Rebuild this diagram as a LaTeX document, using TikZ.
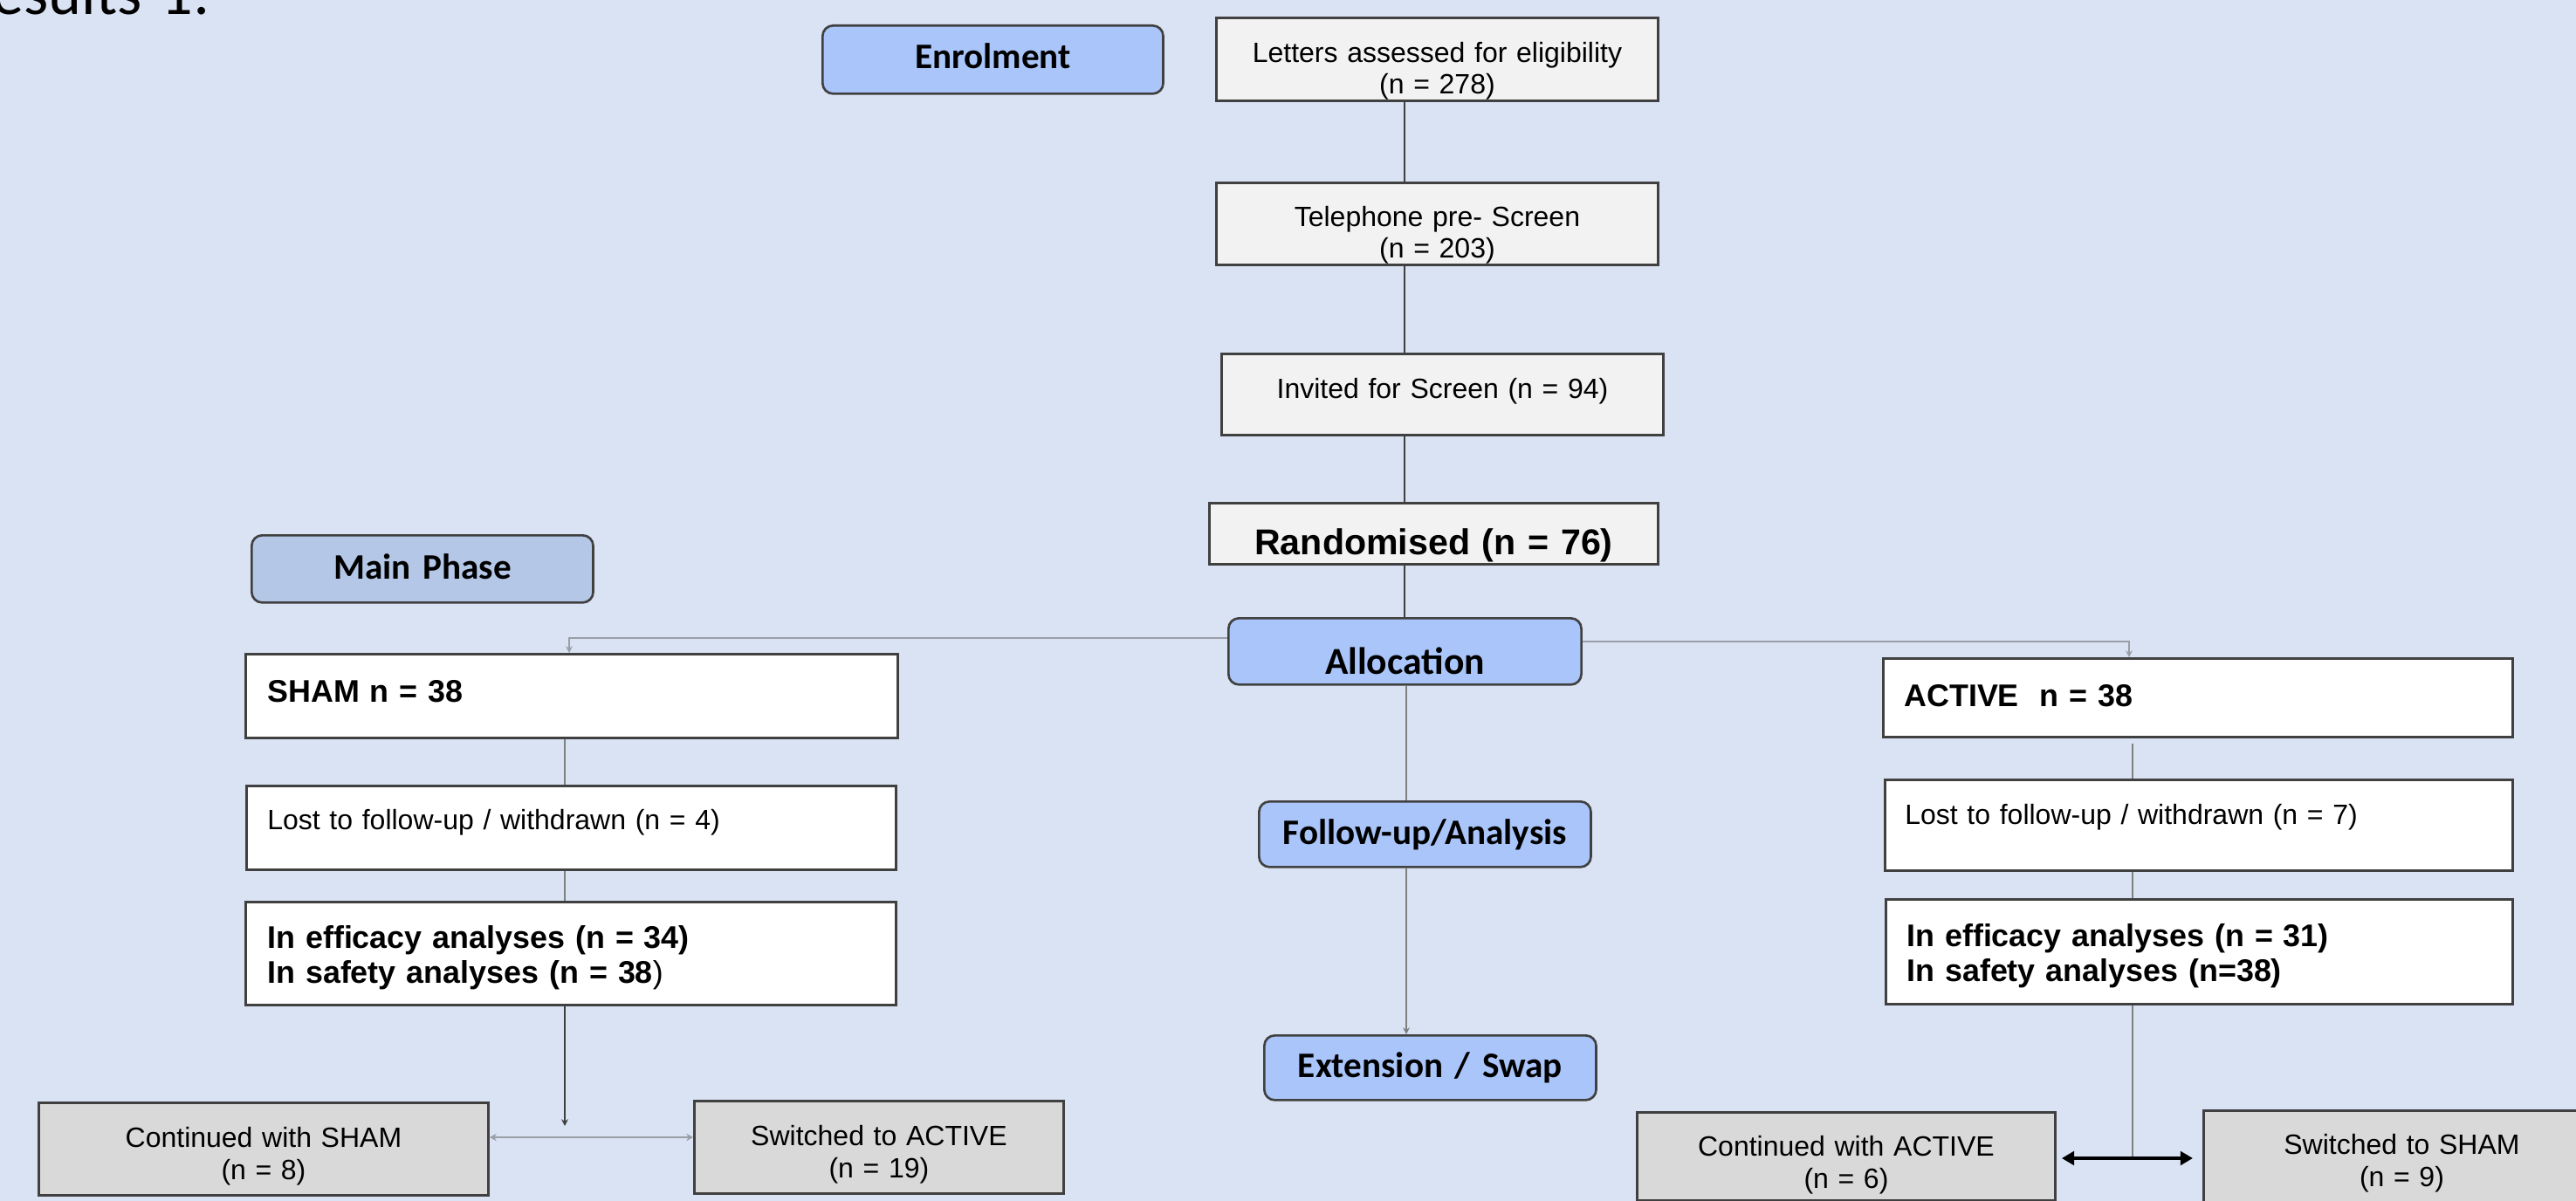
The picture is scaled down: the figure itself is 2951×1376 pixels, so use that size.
\documentclass[tikz,border=0pt]{standalone}
\usepackage{fontspec}
\setmainfont{Liberation Sans}
\newfontfamily\calfont{Carlito}
\usetikzlibrary{arrows.meta}
\definecolor{bgc}{HTML}{DAE3F3}
\definecolor{lgrayc}{HTML}{F2F2F2}
\definecolor{dgrayc}{HTML}{D9D9D9}
\definecolor{bluec}{HTML}{A9C5FA}
\definecolor{mainc}{HTML}{B4C7E7}
\definecolor{bordc}{HTML}{404040}
\definecolor{darkln}{HTML}{3F3F3F}
\definecolor{midln}{HTML}{808080}
\definecolor{lightln}{HTML}{9A9EA6}
\tikzset{
  bx/.style={draw=bordc, line width=0.75pt, anchor=north west, inner ysep=0pt},
  cbox/.style={bx, align=center, inner xsep=0pt},
  lbox/.style={bx, align=left},
  regf/.style={font=\fontsize{9.1}{10.2}\selectfont},
  botf/.style={font=\fontsize{9.1}{10.5}\selectfont},
  boldf/.style={font=\bfseries\fontsize{10.2}{11.4}\selectfont},
  calf/.style={font=\calfont\bfseries\fontsize{11.7}{13}\selectfont},
  phase/.style={cbox, calf, fill=bluec, rounded corners=1.2mm},
  tline/.style={draw=darkln, line width=0.55pt},
  mline/.style={draw=midln, line width=0.5pt},
  hline/.style={draw=lightln, line width=0.6pt},
  smallarr/.style={-{Stealth[length=2.2pt,width=2.2pt]}},
}
\begin{document}
\begin{tikzpicture}[x=0.01cm, y=-0.01cm]
\useasboundingbox (0,0) rectangle (2951,1376);
\clip (0,0) rectangle (2951,1376);
\fill[bgc] (0,0) rectangle (2951,1376);

% caption (cut off at page edge, as in the reference)
\node[anchor=base west, inner sep=0pt, font=\calfont\fontsize{20.5}{24}\selectfont] (cap) at (-47,17) {Results-1:};

% phase labels
\node[phase, text width=3.90cm, text height=0.49cm, text depth=0.29cm] (enrol) at (941,28) {Enrolment};
\node[phase, fill=mainc, text width=3.91cm, text height=0.50cm, text depth=0.27cm] (mainph) at (287,612) {Main Phase};
\node[phase, font=\calfont\bfseries\fontsize{12.4}{14}\selectfont, text width=4.04cm, text height=0.64cm, text depth=0.12cm] (alloc) at (1406,707) {Allocation};
\node[phase, text width=3.80cm, text height=0.49cm, text depth=0.26cm] (follow) at (1441,917) {Follow-up/Analysis};
\node[phase, text width=3.80cm, text height=0.48cm, text depth=0.26cm] (ext) at (1447,1185) {Extension / Swap};

% enrolment chain
\node[cbox, regf, fill=lgrayc, text width=5.06cm, text height=0.51cm, text depth=0.44cm] (letters) at (1392,19) {Letters assessed for eligibility\\(n = 278)};
\node[cbox, regf, fill=lgrayc, text width=5.06cm, text height=0.50cm, text depth=0.44cm] (tele) at (1392,208) {Telephone pre- Screen\\(n = 203)};
\node[cbox, regf, fill=lgrayc, text width=5.06cm, text height=0.51cm, text depth=0.42cm] (invited) at (1398,404) {Invited for Screen (n = 94)};
\node[cbox, fill=lgrayc, font=\bfseries\fontsize{11.7}{14}\selectfont, text width=5.14cm, text height=0.59cm, text depth=0.11cm] (rand) at (1384,575) {Randomised (n = 76)};

% SHAM arm
\node[lbox, boldf, fill=white, inner xsep=0.25cm, text width=6.97cm, text height=0.55cm, text depth=0.41cm] (sham) at (280,748) {SHAM n = 38};
\node[lbox, regf, fill=white, inner xsep=0.24cm, text width=6.96cm, text height=0.50cm, text depth=0.46cm] (lost1) at (281,899) {Lost to follow-up / withdrawn (n = 4)};
\node[lbox, boldf, fill=white, inner xsep=0.25cm, text width=6.95cm, text height=0.53cm, text depth=0.65cm] (eff1) at (280,1032) {In efficacy analyses (n = 34)\\In safety analyses (n = 38{\mdseries)}};

% ACTIVE arm
\node[lbox, boldf, fill=white, inner xsep=0.24cm, text width=6.73cm, text height=0.55cm, text depth=0.35cm] (active) at (2156,753) {ACTIVE\ \ n = 38};
\node[lbox, regf, fill=white, inner xsep=0.23cm, text width=6.73cm, text height=0.51cm, text depth=0.53cm] (lost2) at (2158,892) {Lost to follow-up / withdrawn (n = 7)};
\node[lbox, boldf, fill=white, inner xsep=0.24cm, text width=6.70cm, text height=0.54cm, text depth=0.66cm] (eff2) at (2159,1029) {In efficacy analyses (n = 31)\\In safety analyses (n=38)};

% extension outcomes
\node[cbox, botf, fill=dgrayc, text width=5.15cm, text height=0.51cm, text depth=0.55cm] (contsham) at (43,1262) {Continued with SHAM\\(n = 8)};
\node[cbox, botf, fill=dgrayc, text width=4.23cm, text height=0.51cm, text depth=0.55cm] (switchact) at (794,1260) {Switched to ACTIVE\\(n = 19)};
\node[cbox, botf, fill=dgrayc, text width=4.79cm, text height=0.50cm, text depth=0.51cm] (contact) at (1874,1273) {Continued with ACTIVE\\(n = 6)};
\node[cbox, botf, fill=dgrayc, text width=4.54cm, text height=0.50cm, text depth=0.59cm] (switchsham) at (2523,1271) {Switched to SHAM\\(n = 9)};

% helper coordinates
\coordinate (cx) at (1609,0);
\coordinate (cx2) at (1611,0);
\coordinate (ly) at (0,731);
\coordinate (lx) at (652,0);
\coordinate (ry) at (0,735);
\coordinate (rx) at (2439,0);
\coordinate (lx2) at (647,0);
\coordinate (rx2) at (2443,0);
\coordinate (ltip) at (647,1290);
\coordinate (dy) at (0,1303);
\coordinate (rtop) at (2443,852);
\coordinate (rjoin) at (2443,1327);

% central chain
\draw[tline] (letters.south -| cx) -- (tele.north -| cx);
\draw[tline] (tele.south -| cx) -- (invited.north -| cx);
\draw[tline] (invited.south -| cx) -- (rand.north -| cx);
\draw[tline] (rand.south -| cx) -- (alloc.north -| cx);
\draw[mline] (alloc.south -| cx2) -- (follow.north -| cx2);
\draw[mline, smallarr] (follow.south -| cx2) -- (ext.north -| cx2);

% allocation branches
\draw[hline, smallarr] (alloc.west |- ly) -| (sham.north -| lx);
\draw[hline, smallarr] (alloc.east |- ry) -| (active.north -| rx);

% SHAM column
\draw[mline] (sham.south -| lx2) -- (lost1.north -| lx2);
\draw[mline] (lost1.south -| lx2) -- (eff1.north -| lx2);
\draw[mline, draw=darkln, smallarr] (eff1.south -| lx2) -- (ltip);
\draw[hline, line width=0.7pt, {Stealth[length=2.2pt,width=2.4pt]}-{Stealth[length=2.2pt,width=2.4pt]}] (contsham.east |- dy) -- (switchact.west |- dy);

% ACTIVE column
\draw[mline] (rtop) -- (lost2.north -| rx2);
\draw[mline] (lost2.south -| rx2) -- (eff2.north -| rx2);
\draw[mline] (eff2.south -| rx2) -- (rjoin);
\draw[black, line width=1pt, shorten <=0.06cm, shorten >=0.11cm, {Triangle[length=4pt,width=4.4pt]}-{Triangle[length=4pt,width=4.4pt]}] (contact.east |- rjoin) -- (switchsham.west |- rjoin);
\end{tikzpicture}
\end{document}
